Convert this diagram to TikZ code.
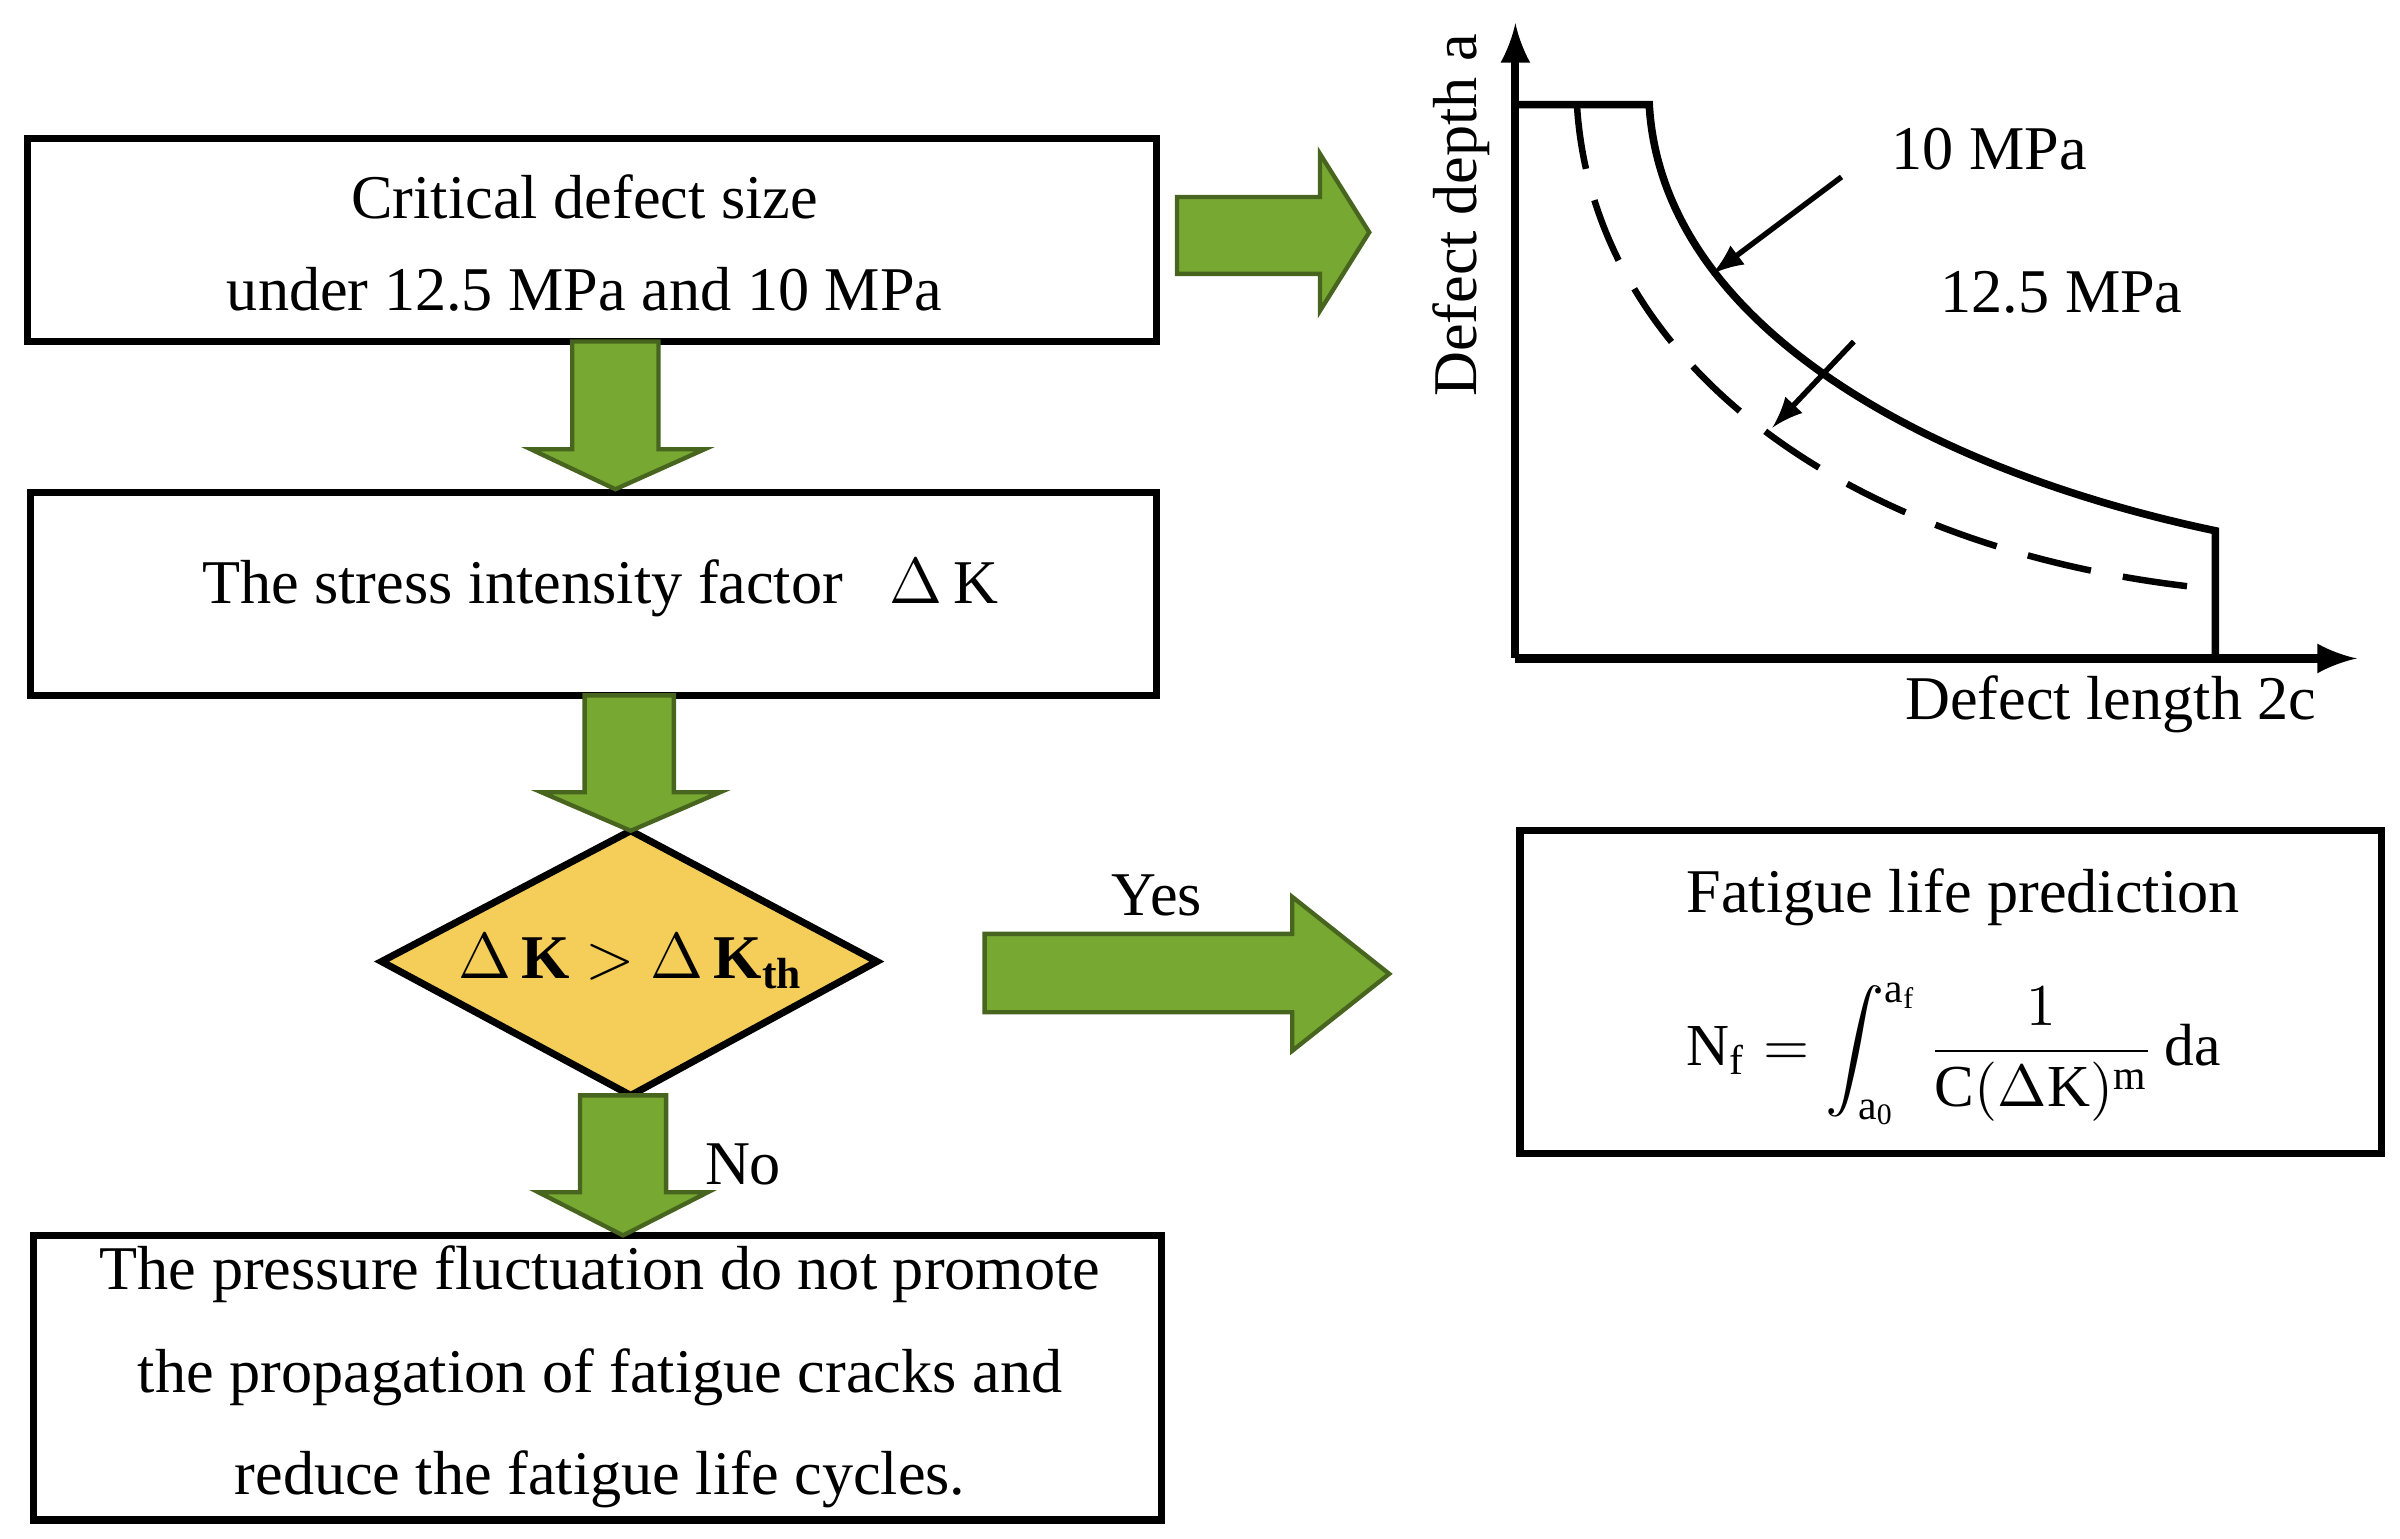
\documentclass[tikz,border=0pt]{standalone}
\usepackage{fontspec}
\setmainfont{Liberation Serif}
\usepackage{amsmath}
\begin{document}
\begin{tikzpicture}[x=0.01cm,y=-0.01cm,
  box/.style={draw,line width=1.3pt},
  txt/.style={font=\fontsize{11.5}{15}\selectfont,align=center}]
\useasboundingbox (0,0) rectangle (1560,1000);
\definecolor{gr}{RGB}{118,168,50}
\tikzset{garr/.style={fill=gr,draw=gr!60!black,line width=0.8pt}}
% boxes
\draw[box] (18,90) rectangle (752,222);
\node[txt] (b1) at (380,158) {Critical defect size\\[2pt] under 12.5 MPa and 10 MPa};
\draw[box] (20,320) rectangle (752,452);
\node[txt] (b2) at (390,382) {The stress intensity factor \ \ $\Delta$\,K};
\draw[box] (22,803) rectangle (755,988);
\node[txt] (b3) at (390,895) {The pressure fluctuation do not promote\\[4pt] the propagation of fatigue cracks and\\[4pt] reduce the fatigue life cycles.};
\draw[box] (988,540) rectangle (1548,750);
\node[txt] (b4) at (1276,583) {Fatigue life prediction};
\node[font=\fontsize{11}{13}\selectfont] (f) at (1270,685) {$\mathrm{N_f}=\displaystyle\int_{\mathrm{a_0}}^{\mathrm{a_f}}\frac{1}{\mathrm{C}(\Delta \mathrm{K})^{\mathrm{m}}}\,\mathrm{da}$};
% diamond
\draw[fill={rgb,255:red,245;green,206;blue,90},line width=1.3pt] (248,625) -- (410,540) -- (570,625) -- (410,712) -- cycle;
\node[txt] (d) at (410,625) {$\Delta$\,\textbf{K} $>$ $\Delta$\,\textbf{K}$_{\textbf{th}}$};
% arrows
\draw[garr] (765,128) -- (858,128) -- (858,100) -- (890,151) -- (858,202) -- (858,178) -- (765,178) -- cycle;
\draw[garr] (372,222) -- (428,222) -- (428,292) -- (458,292) -- (400,318) -- (345,292) -- (372,292) -- cycle;
\draw[garr] (380,452) -- (438,452) -- (438,515) -- (468,515) -- (410,540) -- (352,515) -- (380,515) -- cycle;
\draw[garr] (377,712) -- (433,712) -- (433,775) -- (460,775) -- (405,803) -- (350,775) -- (377,775) -- cycle;
\draw[garr] (640,607) -- (840,607) -- (840,583) -- (903,633) -- (840,683) -- (840,658) -- (640,658) -- cycle;
\node[txt] (yes) at (752,582) {Yes};
\node[txt] (no) at (483,757) {No};
% graph
\draw[line width=1.5pt,-latex] (985,428) -- (985,15);
\draw[line width=1.5pt,-latex] (985,428) -- (1532,428);
\draw[line width=1.4pt] (985,68) -- (1072,68) .. controls (1080,210) and (1250,305) .. (1440,345) -- (1440,428);
\draw[line width=1.2pt,dash pattern=on 12pt off 6pt] (1025,68) .. controls (1035,235) and (1200,360) .. (1440,383);
\node[txt,rotate=90] (ya) at (950,140) {Defect depth a};
\node[txt] (xa) at (1372,458) {Defect length 2c};
\node[txt] (l1) at (1293,97) {10 MPa};
\node[txt] (l2) at (1340,190) {12.5 MPa};
\coordinate (a1s) at (1197,115); \coordinate (a1e) at (1113,178);
\coordinate (a2s) at (1205,222); \coordinate (a2e) at (1152,278);
\draw[line width=1pt,-latex] (a1s) -- (a1e);
\draw[line width=1pt,-latex] (a2s) -- (a2e);
\end{tikzpicture}
\end{document}
